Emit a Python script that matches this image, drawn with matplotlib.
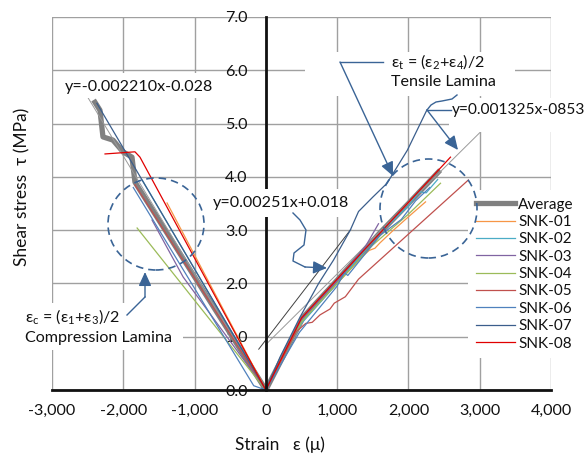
import numpy as np
import matplotlib
matplotlib.use("Agg")
import matplotlib.pyplot as plt
from matplotlib.transforms import Affine2D
from matplotlib.patches import Ellipse, Rectangle
from matplotlib.lines import Line2D
from matplotlib.ticker import FixedLocator, FuncFormatter

plt.rcParams['font.family'] = ['Lato', 'DejaVu Sans']
plt.rcParams['mathtext.fontset'] = 'custom'
plt.rcParams['mathtext.rm'] = 'Lato'
plt.rcParams['mathtext.it'] = 'Lato:italic'

W, H = 587, 455

# ---- shear stress / strain readings (compression side, tensile side) ----
avg_c_strain = [0, -1836, -1878, -2004, -2145, -2285, -2327, -2397]
avg_c_stress = [0, 3.90, 4.37, 4.47, 4.69, 4.75, 5.25, 5.40]
avg_t_strain = [0, 525, 1000, 1600, 2000, 2420]
avg_t_stress = [0, 1.37, 2.06, 2.95, 3.50, 4.09]

snk01_c_strain = [0, -1386]
snk01_c_stress = [0, 3.51]
snk01_t_strain = [0, 520, 1000, 1350, 1450, 1530, 1600, 1790, 2000, 2240]
snk01_t_stress = [0, 1.30, 2.00, 2.50, 2.62, 2.66, 2.76, 3.00, 3.25, 3.53]

snk02_c_strain = [0, -1735]
snk02_c_stress = [0, 3.94]
snk02_t_strain = [0, 500, 1000, 1600, 2000, 2150, 2250, 2300, 2410]
snk02_t_stress = [0, 1.25, 2.00, 2.95, 3.45, 3.72, 3.70, 3.78, 3.95]

snk03_c_strain = [0, -1160, -1597]
snk03_c_stress = [0, 2.12, 3.19]
snk03_t_strain = [0, 500, 1000, 1400, 1580]
snk03_t_stress = [0, 1.32, 2.05, 2.70, 3.12]

snk04_c_strain = [0, -1806]
snk04_c_stress = [0, 3.04]
snk04_t_strain = [0, 500, 1000, 1500, 2000, 2450]
snk04_t_stress = [0, 1.28, 2.00, 2.72, 3.30, 3.88]

snk05_c_strain = [0, -1836]
snk05_c_stress = [0, 3.85]
snk05_t_strain = [0, 430, 560, 650, 760, 900, 960, 1115, 1300, 2840]
snk05_t_stress = [0, 1.10, 1.25, 1.27, 1.41, 1.52, 1.63, 1.75, 2.08, 3.94]

snk06_c_strain = [0, -170, -1860]
snk06_c_stress = [0, 0.08, 3.80]
snk06_t_strain = [0, 470, 1000, 1100, 1150, 1600, 1900, 2100, 2300]
snk06_t_stress = [0, 1.08, 1.95, 2.20, 2.15, 2.90, 3.20, 3.55, 3.80]

snk07_c_strain = [0, -2370]
snk07_c_stress = [0, 5.38]
snk07_t_strain = [0, 200, 480, 740, 950, 1184, 1300, 1500, 1700, 1985, 2257]
snk07_t_stress = [0, 0.62, 1.37, 2.00, 2.44, 3.00, 3.35, 3.62, 3.88, 4.50, 5.25]

snk08_c_strain = [0, -1766, -1836, -2256]
snk08_c_stress = [0, 4.37, 4.47, 4.43]
snk08_t_strain = [0, 500, 1000, 2590]
snk08_t_stress = [0, 1.35, 2.08, 4.37]

series_names = ["Average", "SNK-01", "SNK-02", "SNK-03", "SNK-04",
                "SNK-05", "SNK-06", "SNK-07", "SNK-08"]

# linear fits: (slope, intercept, x_start, x_end)
comp_fit = (-0.002210, -0.028, -2500, 0)
tens_fit = (0.001325, 0.853, 0, 3000)
init_fit = (0.00174, 0.94, -100, 1190)

x_ticks = [-3000, -2000, -1000, 0, 1000, 2000, 3000, 4000]
y_ticks = [0, 1, 2, 3, 4, 5, 6, 7]

# ---- styling ----
colors = {
    "Average": "#808080", "SNK-01": "#F79646", "SNK-02": "#4BACC6",
    "SNK-03": "#8064A2", "SNK-04": "#9BBB59", "SNK-05": "#C0504D",
    "SNK-06": "#4F81BD", "SNK-07": "#3B5E8C", "SNK-08": "#E00000",
}
callout = "#3A6496"
ink = "#111111"
FS = 11.6

fig = plt.figure(figsize=(W / 100, H / 100), dpi=100)
ax = fig.add_axes([52 / W, 1 - 390 / H, (551 - 52) / W, (390 - 17) / H])
# pixel coordinates with the origin at the top-left of the figure
PX = Affine2D().scale(1 / W, -1 / H).translate(0, 1) + fig.transFigure

ax.set_xlim(-3000, 4000)
ax.set_ylim(0, 7)
ax.xaxis.set_major_locator(FixedLocator(x_ticks))
ax.yaxis.set_major_locator(FixedLocator(y_ticks))
ax.xaxis.set_major_formatter(FuncFormatter(lambda v, p: f"{v:,.0f}".replace("\u2212", "-")))
ax.yaxis.set_major_formatter(FuncFormatter(lambda v, p: f"{v:.1f}"))
ax.set_axisbelow(True)
ax.grid(True, color="#A0A0A0", lw=1.0)
for s in ("top", "right"):
    ax.spines[s].set_visible(False)
ax.spines["left"].set_position(("data", 0))
ax.spines["left"].set_linewidth(2.0)
ax.spines["bottom"].set_linewidth(2.0)
ax.spines["left"].set_color(ink)
ax.spines["bottom"].set_color(ink)
ax.tick_params(axis="both", length=0, labelsize=FS, colors=ink)
ax.tick_params(axis="y", pad=13)
ax.tick_params(axis="x", pad=10)

series = {
    "Average": (avg_c_strain, avg_c_stress, avg_t_strain, avg_t_stress),
    "SNK-01": (snk01_c_strain, snk01_c_stress, snk01_t_strain, snk01_t_stress),
    "SNK-02": (snk02_c_strain, snk02_c_stress, snk02_t_strain, snk02_t_stress),
    "SNK-03": (snk03_c_strain, snk03_c_stress, snk03_t_strain, snk03_t_stress),
    "SNK-04": (snk04_c_strain, snk04_c_stress, snk04_t_strain, snk04_t_stress),
    "SNK-05": (snk05_c_strain, snk05_c_stress, snk05_t_strain, snk05_t_stress),
    "SNK-06": (snk06_c_strain, snk06_c_stress, snk06_t_strain, snk06_t_stress),
    "SNK-07": (snk07_c_strain, snk07_c_stress, snk07_t_strain, snk07_t_stress),
    "SNK-08": (snk08_c_strain, snk08_c_stress, snk08_t_strain, snk08_t_stress),
}

handles = []
for i, name in enumerate(series_names):
    cs, cy, ts, ty = series[name]
    x = list(cs[::-1]) + list(ts[1:])
    y = list(cy[::-1]) + list(ty[1:])
    lw = 3.8 if name == "Average" else 0.9
    h, = ax.plot(x, y, color=colors[name], lw=lw, zorder=2 + 0.01 * i,
                 solid_joinstyle="round", label=name)
    handles.append(h)
    if name == "Average":
        # fitted lines sit just above the average curve
        for (m, b, x0, x1), c in ((comp_fit, "#9A9A9A"), (tens_fit, "#9A9A9A"),
                                  (init_fit, "#404040")):
            xx = np.array([x0, x1], dtype=float)
            ax.plot(xx, m * xx + b, color=c, lw=0.7, zorder=2.005)

# ---- white label boxes ----
boxes = [(60, 73, 215, 98), (208, 189, 350, 217), (18, 303, 183, 350),
         (305, 52, 515, 96), (449, 98, 587, 132)]
for x0, y0, x1, y1 in boxes:
    ax.add_patch(Rectangle((x0, y1), x1 - x0, y0 - y1, transform=PX,
                           facecolor="white", edgecolor="none", zorder=3,
                           clip_on=False))

# ---- dashed circles ----
for cx, cy, w, h in ((156, 224, 96, 92), (428.5, 208.5, 97, 99)):
    ax.add_patch(Ellipse((cx, cy), w, -h, transform=PX, fill=False,
                         edgecolor=callout, lw=1.2, linestyle=(0, (4.5, 3)),
                         zorder=6, clip_on=False))

# ---- labels ----
txt = dict(transform=PX, fontsize=FS, color=ink, zorder=5, va="center",
           ha="left", clip_on=False)
ax.text(65, 87, "y=-0.002210x-0.028", **txt)
ax.text(213, 203, "y=0.00251x+0.018", **txt)
ax.text(25, 317, r"ε$_\mathregular{c}$ = (ε$_\mathregular{1}$+ε$_\mathregular{3}$)/2", **txt)
ax.text(25, 338, "Compression Lamina", **txt)
ax.text(391, 62, r"ε$_\mathregular{t}$ = (ε$_\mathregular{2}$+ε$_\mathregular{4}$)/2", **txt)
ax.text(391, 82, "Tensile Lamina", **txt)
ax.text(585, 110, "y=0.001325x-0853", **dict(txt, ha="right", fontsize=11.2))


def leader(pts, arrow=True):
    xs = [p[0] for p in pts]
    ys = [p[1] for p in pts]
    n = len(pts) - 1 if arrow else len(pts)
    if n >= 2:
        ax.add_line(Line2D(xs[:n], ys[:n], transform=PX, color=callout,
                           lw=1.0, zorder=5.5, clip_on=False))
    if arrow:
        ax.annotate("", xy=pts[-1], xytext=pts[-2], xycoords=PX, textcoords=PX,
                    arrowprops=dict(arrowstyle="-|>,head_length=0.7,head_width=0.32",
                                    color=callout, lw=1.0, mutation_scale=12,
                                    shrinkA=0, shrinkB=0), zorder=5.5)


leader([(127, 315), (145, 297), (145, 272)])
leader([(383, 62), (340, 62), (393, 176)])
leader([(451, 110), (427, 110), (458, 150)])
leader([(427, 110), (431, 105), (436, 102), (442, 101), (447, 100), (452, 99), (457, 95)],
       arrow=False)
leader([(293, 213), (300, 220), (306, 230), (304, 245), (294, 253), (293, 261),
        (305, 267), (327, 268)])

# ---- axis titles ----
fig.text(22, 187, "Shear stress  τ (MPa)", transform=PX, rotation=90,
         ha="center", va="center", fontsize=12.5, color=ink)
fig.text(280, 445, "Strain   ε (μ)", transform=PX, ha="center", va="center",
         fontsize=12.5, color=ink)

# ---- legend ----
leg = ax.legend(handles=handles, loc="upper left",
                bbox_to_anchor=(468 / W, 1 - 190 / H), bbox_transform=fig.transFigure,
                fontsize=11, frameon=True, fancybox=False, framealpha=1,
                facecolor="white", edgecolor="none", borderaxespad=0,
                borderpad=0.5, handlelength=2.6, handletextpad=0.2,
                labelspacing=0.22)
leg.set_zorder(4)
for t in leg.get_texts():
    t.set_color(ink)

fig.savefig("out.png", dpi=100)
